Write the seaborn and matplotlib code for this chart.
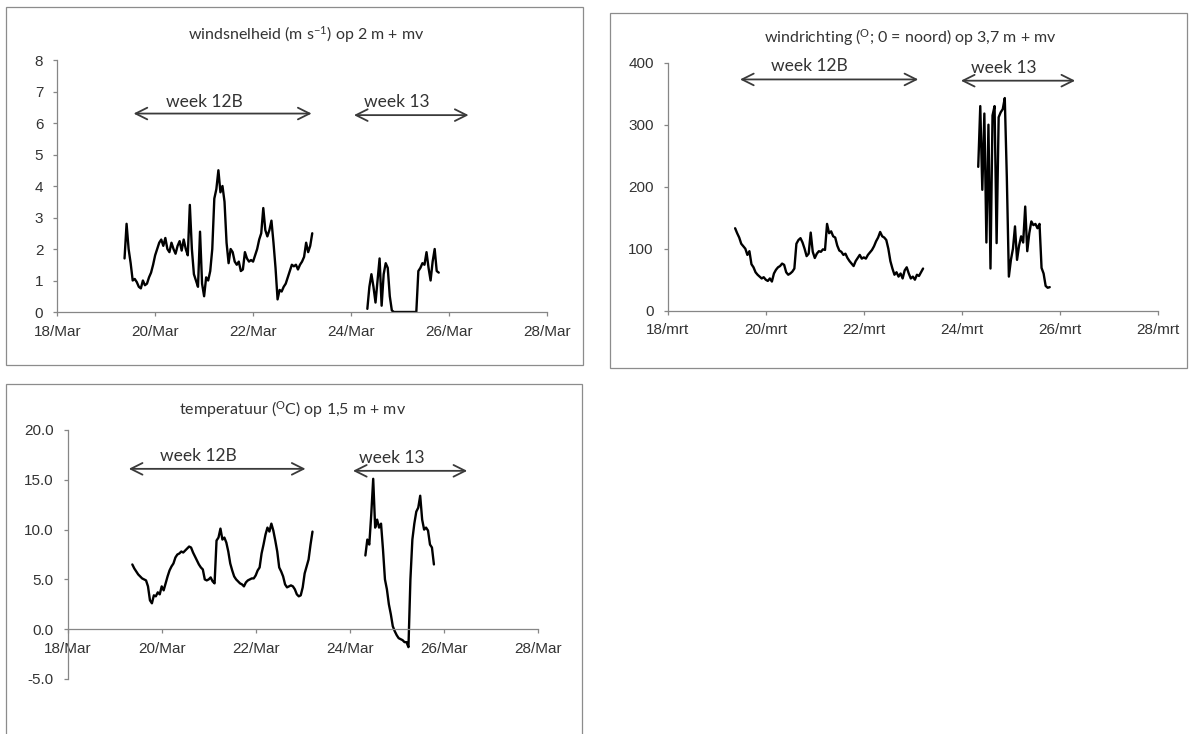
import numpy as np
import pandas as pd
import matplotlib
matplotlib.use("Agg")
import matplotlib.pyplot as plt
import matplotlib.dates as mdates
from matplotlib.patches import Rectangle
from matplotlib.ticker import FormatStrFormatter
import seaborn as sns

# ---------------------------------------------------------------- data
# hourly readings, two measuring periods
tijd_12b = pd.date_range("2013-03-19 09:00", periods=93, freq="h")
tijd_13 = pd.date_range("2013-03-24 08:00", periods=36, freq="h")

# wind speed (m/s) at 2 m
windsnelheid_12b = [
    1.7, 2.8, 2.0, 1.55, 1.0, 1.05, 0.95, 0.8, 0.75, 1.0,
    0.85, 0.9, 1.1, 1.25, 1.5, 1.8, 2.0, 2.2, 2.3, 2.1,
    2.35, 2.0, 1.9, 2.2, 2.0, 1.85, 2.1, 2.25, 1.95, 2.3,
    2.0, 1.8, 3.4, 2.0, 1.2, 1.0, 0.8, 2.55, 0.9, 0.5,
    1.1, 1.0, 1.3, 2.0, 3.6, 3.9, 4.5, 3.8, 4.0, 3.5,
    2.2, 1.55, 2.0, 1.9, 1.6, 1.5, 1.6, 1.3, 1.35, 1.9,
    1.7, 1.6, 1.65, 1.6, 1.8, 2.0, 2.3, 2.5, 3.3, 2.6,
    2.4, 2.6, 2.9, 2.2, 1.4, 0.4, 0.7, 0.65, 0.8, 0.9,
    1.1, 1.3, 1.5, 1.45, 1.5, 1.35, 1.5, 1.6, 1.75, 2.2,
    1.9, 2.1, 2.5,
]
windsnelheid_13 = [
    0.1, 0.8, 1.2, 0.8, 0.3, 1.0, 1.7, 0.2, 1.2, 1.55,
    1.4, 0.5, 0.05, 0.0, 0.0, 0.0, 0.0, 0.0, 0.0, 0.0,
    0.0, 0.0, 0.0, 0.0, 0.0, 1.3, 1.4, 1.55, 1.5, 1.9,
    1.4, 1.0, 1.6, 2.0, 1.3, 1.25,
]

# wind direction (degrees, 0 = north) at 3.7 m
windrichting_12b = [
    133, 125, 118, 108, 104, 100, 90, 96, 75, 70,
    62, 58, 55, 52, 54, 50, 48, 52, 47, 60,
    66, 70, 72, 76, 74, 62, 58, 60, 63, 68,
    108, 114, 117, 110, 100, 88, 92, 126, 95, 85,
    92, 96, 95, 99, 98, 140, 125, 128, 120, 118,
    105, 97, 95, 90, 92, 85, 80, 76, 72, 80,
    85, 90, 84, 86, 84, 90, 94, 98, 104, 112,
    118, 127, 120, 118, 114, 100, 80, 68, 58, 62,
    55, 60, 52, 65, 70, 60, 52, 55, 50, 58,
    56, 62, 68,
]
windrichting_13 = [
    232, 330, 195, 318, 110, 300, 68, 315, 330, 109,
    312, 320, 325, 343, 215, 55, 82, 100, 136, 82,
    105, 120, 110, 168, 96, 125, 144, 138, 140, 133,
    140, 69, 60, 40, 37, 38,
]

# air temperature (deg C) at 1.5 m
temperatuur_12b = [
    6.5, 6.1, 5.8, 5.5, 5.3, 5.1, 5.0, 4.9, 4.3, 2.9,
    2.6, 3.4, 3.3, 3.7, 3.5, 4.3, 3.9, 4.6, 5.3, 5.9,
    6.3, 6.6, 7.2, 7.5, 7.6, 7.8, 7.7, 7.9, 8.1, 8.3,
    8.2, 7.7, 7.3, 6.9, 6.5, 6.2, 6.0, 5.0, 4.9, 5.0,
    5.2, 4.8, 4.6, 8.9, 9.2, 10.1, 9.0, 9.2, 8.7, 7.8,
    6.6, 5.9, 5.3, 5.0, 4.8, 4.6, 4.5, 4.3, 4.7, 4.9,
    5.0, 5.1, 5.1, 5.4, 5.9, 6.2, 7.6, 8.5, 9.5, 10.2,
    9.8, 10.6, 9.9, 8.9, 7.8, 6.2, 5.8, 5.3, 4.5, 4.2,
    4.3, 4.4, 4.3, 4.0, 3.5, 3.3, 3.4, 4.2, 5.6, 6.3,
    7.0, 8.5, 9.8,
]
temperatuur_13 = [
    7.4, 9.0, 8.5, 11.5, 15.1, 10.2, 11.0, 10.2, 10.6, 8.0,
    5.0, 4.0, 2.5, 1.5, 0.3, -0.2, -0.6, -0.9, -1.0, -1.1,
    -1.3, -1.3, -1.8, 5.0, 9.0, 10.6, 11.8, 12.2, 13.4, 11.0,
    10.0, 10.2, 9.9, 8.5, 8.2, 6.5,
]

# axis ticks and labels
datum_ticks = pd.date_range("2013-03-18", "2013-03-28", freq="2D")
labels_en = ["18/Mar", "20/Mar", "22/Mar", "24/Mar", "26/Mar", "28/Mar"]
labels_nl = ["18/mrt", "20/mrt", "22/mrt", "24/mrt", "26/mrt", "28/mrt"]

# ---------------------------------------------------------------- style
sns.set_theme(style="white")
plt.rcParams["font.family"] = ["Liberation Sans", "DejaVu Sans"]
plt.rcParams["axes.unicode_minus"] = False
plt.rcParams["mathtext.default"] = "regular"

W, H = 1191, 734
fig = plt.figure(figsize=(W / 100, H / 100), dpi=100)
fig.patch.set_facecolor("white")

AXIS_GREY = "#868686"
TEXT_DARK = "#333333"
LABEL_FONT = ["Lato", "DejaVu Sans"]
BASE = pd.Timestamp("2013-03-18")


def day(d):
    return mdates.date2num(BASE + pd.Timedelta(days=d))


def axes_px(left, top, right, bottom):
    return fig.add_axes([left / W, 1 - bottom / H, (right - left) / W, (bottom - top) / H])


def frame_px(left, top, right, bottom):
    fig.patches.append(Rectangle((left / W, 1 - bottom / H), (right - left) / W,
                                 (bottom - top) / H, transform=fig.transFigure,
                                 fill=False, ec="#8c8c8c", lw=0.9, zorder=0))


def series(t1, v1, t2, v2):
    return pd.concat([
        pd.DataFrame({"tijd": t1, "waarde": v1, "week": "12B"}),
        pd.DataFrame({"tijd": t2, "waarde": v2, "week": "13"}),
    ], ignore_index=True)


def style_axes(ax, ylim, yticks, labels, fmt):
    ax.set_xlim(day(0), day(10))
    ax.set_ylim(*ylim)
    ax.set_xticks([mdates.date2num(d) for d in datum_ticks])
    ax.set_xticklabels(labels)
    ax.set_yticks(yticks)
    ax.yaxis.set_major_formatter(FormatStrFormatter(fmt))
    ax.set_xlabel("")
    ax.set_ylabel("")
    for s in ("top", "right"):
        ax.spines[s].set_visible(False)
    for s in ("left", "bottom"):
        ax.spines[s].set_color(AXIS_GREY)
        ax.spines[s].set_linewidth(0.9)
    ax.tick_params(axis="both", which="major", bottom=True, left=True,
                   direction="out", length=3, width=0.9, color=AXIS_GREY,
                   labelsize=11, labelcolor=TEXT_DARK)
    ax.tick_params(axis="x", pad=6)
    ax.tick_params(axis="y", pad=7)
    ax.patch.set_alpha(0)


def week_arrows(ax, spans):
    for (d0, d1, y, tx, ty, txt) in spans:
        ax.annotate("", xy=(day(d1), y), xytext=(day(d0), y),
                    arrowprops=dict(arrowstyle="<->,head_length=0.7,head_width=0.35",
                                    color="#3a3a3a", lw=1.3, shrinkA=0, shrinkB=0,
                                    mutation_scale=12),
                    annotation_clip=False)
        ax.text(day(tx), ty, txt, ha="center", va="center", fontsize=12.5,
                family=LABEL_FONT, color=TEXT_DARK, clip_on=False)


def draw(ax, df):
    sns.lineplot(data=df, x="tijd", y="waarde", units="week", estimator=None,
                 color="black", lw=1.7, legend=False, ax=ax)


# ---------------------------------------------------------------- frames
frame_px(6, 7, 583, 365)
frame_px(610, 13, 1187, 368)
frame_px(6, 384, 582, 745)

TITLE_SIZE = 11.5

# ---------------------------------------------------------------- wind speed
ax1 = axes_px(57.2, 60, 546.9, 312)
draw(ax1, series(tijd_12b, windsnelheid_12b, tijd_13, windsnelheid_13))
style_axes(ax1, (0, 8), range(0, 9), labels_en, "%d")
week_arrows(ax1, [(1.56, 5.195, 6.3, 3.0, 6.67, "week 12B"),
                  (6.06, 8.40, 6.25, 6.94, 6.67, "week 13")])
fig.text(306 / W, 1 - 35 / H, r"windsnelheid (m s$^{-1}$) op 2 m + mv",
         ha="center", va="center", fontsize=TITLE_SIZE, family=LABEL_FONT, color=TEXT_DARK)

# ---------------------------------------------------------------- wind direction
ax2 = axes_px(667.7, 62.7, 1158, 310.7)
draw(ax2, series(tijd_12b, windrichting_12b, tijd_13, windrichting_13))
style_axes(ax2, (0, 400), range(0, 401, 100), labels_nl, "%d")
week_arrows(ax2, [(1.475, 5.11, 373, 2.89, 394, "week 12B"),
                  (5.98, 8.31, 371, 6.85, 391, "week 13")])
fig.text(910 / W, 1 - 38 / H, r"windrichting ($^{O}$; 0 = noord) op 3,7 m + mv",
         ha="center", va="center", fontsize=TITLE_SIZE, family=LABEL_FONT, color=TEXT_DARK)

# ---------------------------------------------------------------- temperature
ax3 = axes_px(67.7, 430, 537.7, 679)
draw(ax3, series(tijd_12b, temperatuur_12b, tijd_13, temperatuur_13))
style_axes(ax3, (-5, 20), [-5, 0, 5, 10, 15, 20], labels_en, "%.1f")
ax3.spines["bottom"].set_position(("data", 0))
week_arrows(ax3, [(1.30, 5.06, 16.1, 2.77, 17.4, "week 12B"),
                  (6.07, 8.50, 15.9, 6.9, 17.2, "week 13")])
fig.text(293 / W, 1 - 410 / H, r"temperatuur ($^{O}$C) op 1,5 m + mv",
         ha="center", va="center", fontsize=TITLE_SIZE, family=LABEL_FONT, color=TEXT_DARK)

fig.savefig("out.png", dpi=100, facecolor="white")
